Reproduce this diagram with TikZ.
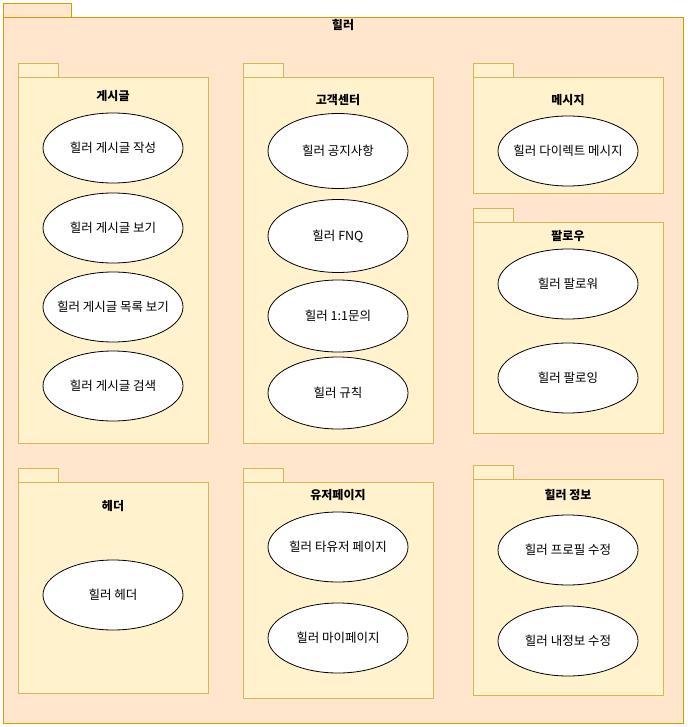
\documentclass[tikz,border=0pt]{standalone}
\usepackage{fontspec}
\setmainfont{Noto Sans CJK KR}
\usepackage{tikz}
\usetikzlibrary{shapes.geometric}
\definecolor{outerfill}{HTML}{FFE6CC}
\definecolor{outerline}{HTML}{D79B00}
\definecolor{pkgfill}{HTML}{FFF2CC}
\definecolor{pkgline}{HTML}{D6B656}

% package = small tab + body
\newcommand{\pkgbox}[5][pkg]{%
  \draw[#1] (#2,#3-14) rectangle (#2+40,#3);
  \draw[#1] (#2,#3) rectangle (#4,#5);}

\begin{document}
\begin{tikzpicture}[x=1pt,y=-1pt,
  frame/.style={draw=outerline, fill=outerfill, line width=0.8pt},
  pkg/.style={draw=pkgline, fill=pkgfill, line width=0.8pt},
  title/.style={font=\fontsize{12}{14}\selectfont\bfseries},
  usecase/.style={ellipse, draw, fill=white, line width=0.8pt, inner sep=0pt,
    minimum width=140pt, minimum height=70pt,
    label={[font=\fontsize{12.5}{15}\selectfont]center:#1}}
]
\useasboundingbox (0,0) rectangle (687,727);

% outer frame
\draw[frame] (3,3) rectangle (71,17);
\draw[frame] (3,17) rectangle (683,723);
\node[title] (healer) at (343,25) {힐러};

% 게시글
\pkgbox{18}{77}{208}{443}
\node[title] (board) at (113,96) {게시글};
\node[usecase={힐러 게시글 작성}] (write) at (113,148) {};
\node[usecase={힐러 게시글 보기}] (view) at (113,228) {};
\node[usecase={힐러 게시글 목록 보기}] (list) at (113,307) {};
\node[usecase={힐러 게시글 검색}] (search) at (113,386) {};

% 고객센터
\pkgbox{243}{77}{433}{443}
\node[title] (cs) at (338,100) {고객센터};
\node[usecase={힐러 공지사항}, minimum height=75pt] (notice) at (338,151) {};
\node[usecase={힐러 FNQ}, minimum height=73pt] (fnq) at (338,236) {};
\node[usecase={힐러 1:1문의}, minimum height=72pt] (qna) at (338,316) {};
\node[usecase={힐러 규칙}, minimum height=72pt] (rule) at (338,393) {};

% 메시지
\pkgbox{473}{77}{663}{193}
\node[title] (msg) at (568,100) {메시지};
\node[usecase={힐러 다이렉트 메시지}] (dm) at (568,151) {};

% 팔로우
\pkgbox{473}{222}{663}{433}
\node[title] (follow) at (568,236) {팔로우};
\node[usecase={힐러 팔로워}] (follower) at (568,284) {};
\node[usecase={힐러 팔로잉}] (following) at (568,378) {};

% 헤더
\pkgbox{18}{482}{208}{693}
\node[title] (header) at (113,506) {헤더};
\node[usecase={힐러 헤더}] (hhead) at (113,595) {};

% 유저페이지
\pkgbox{243}{482}{433}{698}
\node[title] (user) at (338,495) {유저페이지};
\node[usecase={힐러 타유저 페이지}] (other) at (338,547) {};
\node[usecase={힐러 마이페이지}] (mypage) at (338,638) {};

% 힐러 정보
\pkgbox{473}{479}{663}{695}
\node[title] (info) at (568,495) {힐러 정보};
\node[usecase={힐러 프로필 수정}] (profile) at (568,550) {};
\node[usecase={힐러 내정보 수정}] (myinfo) at (568,641) {};
\end{tikzpicture}
\end{document}
